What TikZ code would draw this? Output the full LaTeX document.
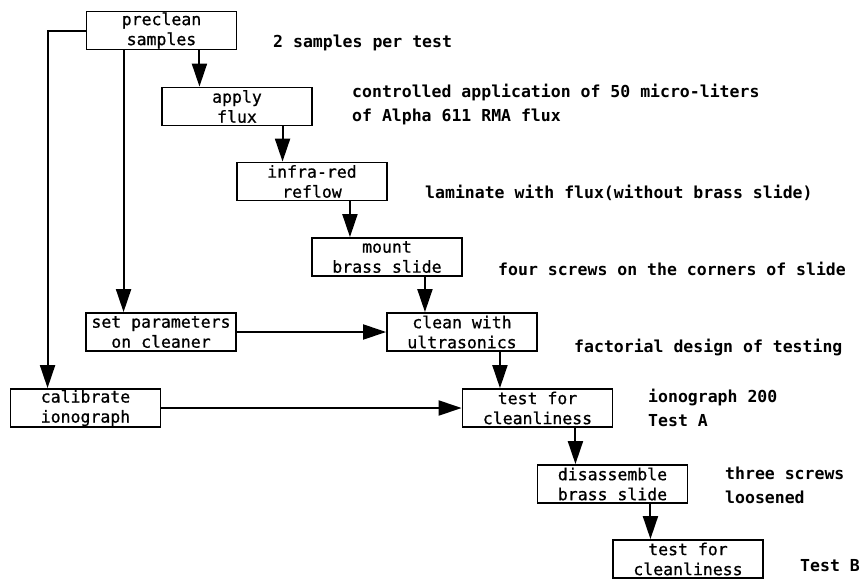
\documentclass[tikz,border=0pt]{standalone}
\usepackage{fontspec}
\usetikzlibrary{arrows.meta,calc}
\newfontfamily\plotfont{DejaVu Sans Mono}
\newfontfamily\boxfont[FakeBold=0.8]{DejaVu Sans Mono}

\tikzset{
  stepbox/.style={draw, line width=1.8pt, minimum width=150pt, minimum height=38pt,
    inner sep=0pt, align=center, font=\boxfont\fontsize{16.5}{20}\selectfont},
  note/.style={anchor=west, inner sep=0pt, align=left,
    font=\plotfont\bfseries\fontsize{16.5}{24}\selectfont},
  flow/.style={line width=2pt, -{Triangle[length=23pt,width=15pt]}}
}

\begin{document}
\begin{tikzpicture}[x=1pt, y=-1pt]
                \useasboundingbox (0,0) rectangle (865,582);

                %----- PROCESS BOXES -----
                \node[stepbox] (preclean) at (161.5,30.5) {preclean\\samples};
                \node[stepbox] (apply)    at (237,106.5)  {apply\\flux};
                \node[stepbox] (infra)    at (312,181.5)  {infra-red\\reflow};
                \node[stepbox] (mount)    at (387,257)    {mount\\brass slide};
                \node[stepbox] (setpar)   at (161,332)    {set parameters\\on cleaner};
                \node[stepbox] (clean)    at (462,332)    {clean with\\ultrasonics};
                \node[stepbox] (calib)    at (85.5,408)   {calibrate\\ionograph};
                \node[stepbox] (testA)    at (537.5,408)  {test for\\cleanliness};
                \node[stepbox] (disasm)   at (612.5,484)  {disassemble\\brass slide};
                \node[stepbox] (testB)    at (688,559)    {test for\\cleanliness};

                %----- SIDE NOTES -----
                \node[note] (nsamples) at (273,43)  {2 samples per test};
                \node[note] (nflux)    at (352,105) {controlled application of 50 micro-liters\\of Alpha 611 RMA flux};
                \node[note] (nlam)     at (425,193) {laminate with flux(without brass slide)};
                \node[note] (nscrews)  at (498,269) {four screws on the corners of slide};
                \node[note] (nfact)    at (574,347) {factorial design of testing};
                \node[note] (ntestA)   at (648,408) {ionograph 200\\Test A};
                \node[note] (nloose)   at (725,485) {three screws\\loosened};
                \node[note] (ntestB)   at (800,566) {Test B};

                %----- START POINTS OF THE ARROWS -----
                % one quarter in from the box centre
                \coordinate (p1) at ($(preclean.south west)!0.5!(preclean.south)$);
                \coordinate (p2) at ($(preclean.south)!0.5!(preclean.south east)$);
                \coordinate (a1) at ($(apply.south)!0.6!(apply.south east)$);
                \coordinate (i1) at ($(infra.south)!0.5!(infra.south east)$);
                \coordinate (m1) at ($(mount.south)!0.5!(mount.south east)$);
                \coordinate (c1) at ($(clean.south)!0.5!(clean.south east)$);
                \coordinate (t1) at ($(testA.south)!0.5!(testA.south east)$);
                \coordinate (d1) at ($(disasm.south)!0.5!(disasm.south east)$);

                %----- ARROWS -----
                \draw[flow] (preclean.west) -| ($(calib.north west)!0.5!(calib.north)$);
                \draw[flow] (p1) -- (setpar.north -| p1);
                \draw[flow] (p2) -- (apply.north -| p2);
                \draw[flow] (a1) -- (infra.north -| a1);
                \draw[flow] (i1) -- (mount.north -| i1);
                \draw[flow] (m1) -- (clean.north -| m1);
                \draw[flow] (c1) -- (testA.north -| c1);
                \draw[flow] (t1) -- (disasm.north -| t1);
                \draw[flow] (d1) -- (testB.north -| d1);
                \draw[flow] (setpar) -- (clean);
                \draw[flow] (calib) -- (testA);

        \end{tikzpicture}
\end{document}
